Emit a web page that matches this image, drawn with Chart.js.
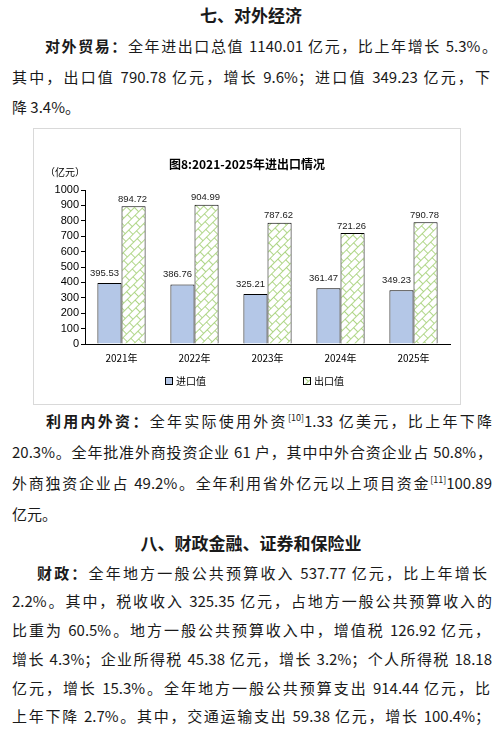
<!DOCTYPE html>
<html><head><meta charset="utf-8">
<script src="https://cdn.jsdelivr.net/npm/chart.js@4.4.1/dist/chart.umd.min.js"></script>
<style>
html,body{margin:0;padding:0;background:#fff;}
body{width:502px;height:731px;position:relative;overflow:hidden;font-family:"Noto Sans CJK SC","Noto Sans",sans-serif;color:#1a1a1a;}
.ln{position:absolute;font-size:15px;line-height:20px;height:20px;text-align:justify;text-align-last:justify;}
.nj{text-align:left;text-align-last:left;}
.h{position:absolute;font-size:17px;font-weight:bold;line-height:22px;text-align:center;left:0;width:502px;}
b{font-weight:bold;}
sup{font-size:9px;line-height:0;vertical-align:6px;}
#box{position:absolute;left:33px;top:128px;width:428px;height:277px;border:1px solid #d9d9d9;box-sizing:border-box;}
#wrap{position:absolute;left:0;top:0;width:426px;height:275px;}
</style></head>
<body>
<div class="h" style="top:4px;">七、对外经济</div>
<div class="ln" style="left:45px;width:452px;top:36px;"><b>对外贸易：</b>全年进出口总值 1140.01 亿元，比上年增长 5.3%。</div>
<div class="ln" style="left:12px;width:478px;top:67px;">其中，出口值 790.78 亿元，增长 9.6%；进口值 349.23 亿元，下</div>
<div class="ln nj" style="left:12px;width:478px;top:97px;">降 3.4%。</div>

<div id="box"><div id="wrap"><canvas id="c"></canvas></div></div>

<div class="ln" style="left:46px;width:446px;top:411px;"><b>利用内外资：</b>全年实际使用外资<sup>[10]</sup>1.33 亿美元，比上年下降</div>
<div class="ln" style="left:12px;width:480px;top:442px;">20.3%。全年批准外商投资企业 61 户，其中中外合资企业占 50.8%，</div>
<div class="ln" style="left:12px;width:480px;top:473px;">外商独资企业占 49.2%。全年利用省外亿元以上项目资金<sup>[11]</sup>100.89</div>
<div class="ln nj" style="left:12px;width:480px;top:504px;">亿元。</div>
<div class="h" style="top:532px;">八、财政金融、证券和保险业</div>
<div class="ln" style="left:37px;width:450px;top:563px;"><b>财政：</b>全年地方一般公共预算收入 537.77 亿元，比上年增长</div>
<div class="ln" style="left:12px;width:480px;top:591px;">2.2%。其中，税收收入 325.35 亿元，占地方一般公共预算收入的</div>
<div class="ln" style="left:12px;width:478px;top:620px;">比重为 60.5%。地方一般公共预算收入中，增值税 126.92 亿元，</div>
<div class="ln" style="left:12px;width:480px;top:649px;">增长 4.3%；企业所得税 45.38 亿元，增长 3.2%；个人所得税 18.18</div>
<div class="ln" style="left:12px;width:478px;top:678px;">亿元，增长 15.3%。全年地方一般公共预算支出 914.44 亿元，比</div>
<div class="ln" style="left:12px;width:478px;top:706px;">上年下降 2.7%。其中，交通运输支出 59.38 亿元，增长 100.4%；</div>

<script>
const chartTitle = '图8:2021-2025年进出口情况';
const unitLabel = '（亿元）';
const categories = ['2021年', '2022年', '2023年', '2024年', '2025年'];
const seriesNames = ['进口值', '出口值'];
const importValues = [395.53, 386.76, 325.21, 361.47, 349.23];
const exportValues = [894.72, 904.99, 787.62, 721.26, 790.78];
const yMin = 0, yMax = 1000, yStep = 100;

const IMPORT_COLOR = '#B4C7E7';
const GREEN = '#9CCB6A';
const canvas = document.getElementById('c');
const ctx = canvas.getContext('2d');

function makePattern() {
  const t = document.createElement('canvas');
  t.width = 10; t.height = 12;
  const g = t.getContext('2d');
  g.fillStyle = '#fff'; g.fillRect(0, 0, 10, 12);
  g.strokeStyle = GREEN; g.lineWidth = 0.8;
  g.beginPath();
  g.moveTo(0, 0.5); g.lineTo(10, 0.5);
  g.moveTo(0, 6.5); g.lineTo(10, 6.5);
  g.moveTo(0.5, 0.5); g.lineTo(0.5, 6.5);
  g.moveTo(5.5, 6.5); g.lineTo(5.5, 12);
  g.stroke();
  const p = ctx.createPattern(t, 'repeat');
  p.setTransform(new DOMMatrix().rotate(-45));
  return p;
}
const exportPattern = makePattern();

const decorPlugin = {
  id: 'decor',
  afterDatasetsDraw(chart) {
    const c = chart.ctx;
    c.save();
    c.fillStyle = '#1a1a1a';
    c.font = '9.5px "Liberation Sans", sans-serif';
    c.textAlign = 'center';
    c.textBaseline = 'middle';
    const offs = [[-5, -10], [-1, -7]];
    chart.data.datasets.forEach((ds, di) => {
      const meta = chart.getDatasetMeta(di);
      meta.data.forEach((el, i) => {
        c.fillText(ds.data[i].toFixed(2), el.x + offs[di][0], el.y + offs[di][1]);
      });
    });
    c.restore();
  },
  afterDraw(chart) {
    const c = chart.ctx;
    const a = chart.chartArea;
    c.save();
    c.fillStyle = '#000';
    c.textBaseline = 'middle';
    c.textAlign = 'center';
    c.font = 'bold 12px "Noto Sans CJK SC", sans-serif';
    c.fillText(chartTitle, chart.width / 2, a.top - 26);
    c.font = '10px "Noto Sans CJK SC", sans-serif';
    c.fillText(unitLabel, a.left - 20, a.top - 18);
    const ly = a.bottom + 37;
    const items = [
      {x: a.left + 80, fill: IMPORT_COLOR},
      {x: a.left + 218, fill: exportPattern}
    ];
    c.textAlign = 'left';
    c.font = '10px "Noto Sans CJK SC", sans-serif';
    items.forEach((it, i) => {
      c.fillStyle = it.fill;
      c.fillRect(it.x, ly - 4, 8, 8);
      c.strokeStyle = '#000'; c.lineWidth = 1;
      c.strokeRect(it.x + 0.5, ly - 3.5, 7, 7);
      c.fillStyle = '#000';
      c.fillText(seriesNames[i], it.x + 11, ly);
    });
    c.restore();
  }
};

new Chart(ctx, {
  type: 'bar',
  data: {
    labels: categories,
    datasets: [
      {label: seriesNames[0], data: importValues, backgroundColor: IMPORT_COLOR, borderColor: '#000', borderWidth: 1},
      {label: seriesNames[1], data: exportValues, backgroundColor: exportPattern, borderColor: '#000', borderWidth: 1}
    ]
  },
  options: {
    responsive: true,
    maintainAspectRatio: false,
    animation: false,
    categoryPercentage: 0.66,
    barPercentage: 1.0,
    layout: {padding: {left: 11, right: 10, top: 61, bottom: 30}},
    plugins: {legend: {display: false}, title: {display: false}, tooltip: {enabled: false}},
    scales: {
      x: {
        grid: {display: false, drawTicks: false},
        border: {display: true, color: '#000', width: 1},
        ticks: {color: '#000', padding: 8, font: {size: 10, family: '"Noto Sans CJK SC", sans-serif'}},
        afterFit: s => { s.height = 30; }
      },
      y: {
        min: yMin, max: yMax,
        ticks: {stepSize: yStep, autoSkip: false, color: '#000', padding: 2,
          font: {size: 11, family: '"Liberation Sans", sans-serif'},
          callback: v => String(v)},
        grid: {display: true, drawOnChartArea: false, drawTicks: true, tickLength: 4, color: '#000'},
        border: {display: true, color: '#000', width: 1},
        afterFit: s => { s.width = 40; }
      }
    }
  },
  plugins: [decorPlugin]
});
</script>
</body></html>
